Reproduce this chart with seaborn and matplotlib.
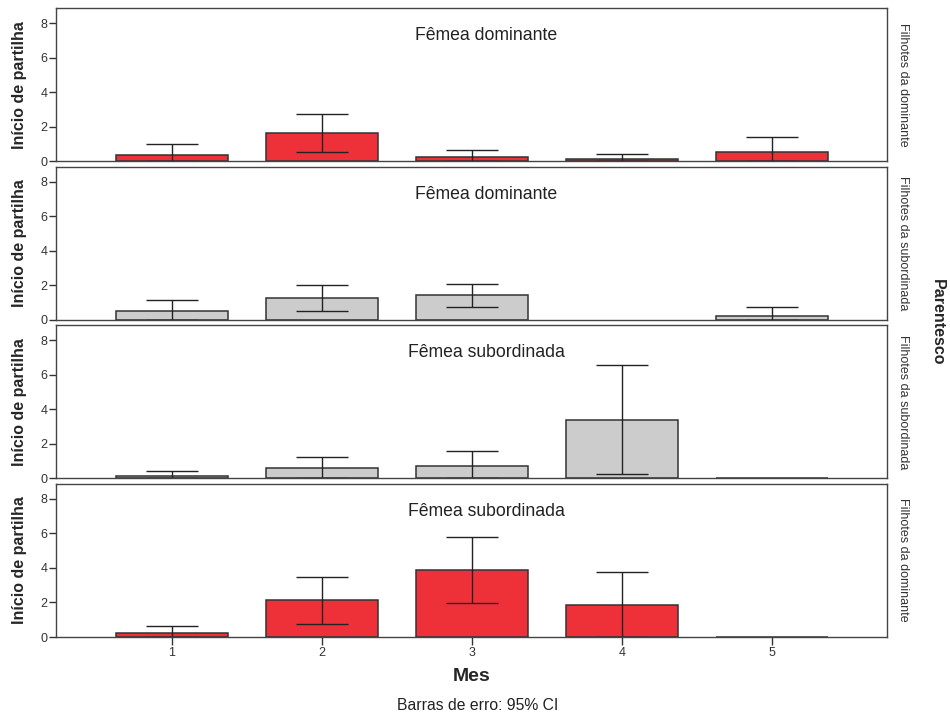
import numpy as np
import pandas as pd
import seaborn as sns
import matplotlib
matplotlib.use("Agg")
import matplotlib.pyplot as plt

sns.set_style("white")
plt.rcParams["font.family"] = ["Liberation Sans", "DejaVu Sans"]

# Month categories
months = ["1", "2", "3", "4", "5"]

# Panel titles (female) and row labels (offspring kinship)
females = ["Fêmea dominante", "Fêmea dominante", "Fêmea subordinada", "Fêmea subordinada"]
kinship = ["Filhotes da dominante", "Filhotes da subordinada",
           "Filhotes da subordinada", "Filhotes da dominante"]

# Mean sharing onset per month, with 95% CI bounds
mean_dd = [0.39, 1.64, 0.27, 0.12, 0.52]
low_dd = [0.0, 0.54, 0.0, 0.0, 0.0]
high_dd = [1.00, 2.72, 0.64, 0.42, 1.41]

mean_ds = [0.52, 1.28, 1.45, np.nan, 0.23]
low_ds = [0.0, 0.52, 0.75, np.nan, 0.0]
high_ds = [1.16, 2.03, 2.09, np.nan, 0.75]

mean_ss = [0.14, 0.62, 0.72, 3.39, 0.0]
low_ss = [0.0, 0.0, 0.0, 0.25, np.nan]
high_ss = [0.41, 1.26, 1.60, 6.55, np.nan]

mean_sd = [0.23, 2.12, 3.89, 1.87, 0.0]
low_sd = [0.0, 0.74, 1.94, 0.0, np.nan]
high_sd = [0.62, 3.48, 5.78, 3.74, np.nan]

means = [mean_dd, mean_ds, mean_ss, mean_sd]
lows = [low_dd, low_ds, low_ss, low_sd]
highs = [high_dd, high_ds, high_ss, high_sd]

RED = "#EE3039"
GREY = "#CCCCCC"
colors = [RED, GREY, GREY, RED]
EDGE = "#333333"

fig, axes = plt.subplots(4, 1, figsize=(9.5, 7.17), dpi=100)
fig.subplots_adjust(left=56 / 950, right=887 / 950, top=1 - 8 / 717,
                    bottom=1 - 637 / 717, hspace=0.033)

for i, ax in enumerate(axes):
    df = pd.DataFrame({"Mes": months, "valor": means[i]})
    sns.barplot(data=df, x="Mes", y="valor", order=months, color=colors[i],
                width=0.75, edgecolor=EDGE, linewidth=1.1, saturation=1,
                errorbar=None, ax=ax)
    m = np.array(means[i], dtype=float)
    lo = np.array(lows[i], dtype=float)
    hi = np.array(highs[i], dtype=float)
    xs = np.arange(len(months))
    ok = ~np.isnan(hi)
    ax.errorbar(xs[ok], m[ok], yerr=[m[ok] - lo[ok], hi[ok] - m[ok]],
                fmt="none", ecolor="#222222", elinewidth=1.0,
                capsize=18.5, capthick=1.0)

    ax.set_xlim(-0.773, 4.767)
    ax.set_ylim(0, 8.87)
    ax.set_yticks([0, 2, 4, 6, 8])
    ax.set_yticklabels(["0", "2", "4", "6", "8"])
    ax.set_ylabel("Início de partilha", fontsize=11.5, fontweight="bold",
                  labelpad=10)
    ax.set_xlabel("")
    ax.tick_params(axis="y", length=5, width=1, color="#333333",
                   labelsize=9, labelcolor="#333333", pad=1, left=True)
    for sp in ax.spines.values():
        sp.set_color("#444444")
        sp.set_linewidth(1.0)
        sp.set_visible(True)
    ax.text(0.518, 0.82, females[i], transform=ax.transAxes, ha="center",
            va="center", fontsize=12.7, color="#222222")
    ax.text(1.012, 0.5, kinship[i], transform=ax.transAxes, ha="left",
            va="center", rotation=-90, fontsize=9, color="#333333")
    if i < 3:
        ax.tick_params(axis="x", bottom=False, labelbottom=False)
    else:
        ax.tick_params(axis="x", bottom=True, length=6, width=1,
                       color="#333333", labelsize=9, labelcolor="#333333",
                       pad=1)
        ax.set_xlabel("Mes", fontsize=14, fontweight="bold", labelpad=7)

fig.text(0.987, (1 - 322 / 717), "Parentesco", rotation=-90, ha="center",
         va="center", fontsize=11.5, fontweight="bold")
fig.text(478 / 950, 1 - 706 / 717, "Barras de erro: 95% CI", ha="center",
         va="center", fontsize=11.3, color="#222222")

fig.savefig("out.png", dpi=100)
